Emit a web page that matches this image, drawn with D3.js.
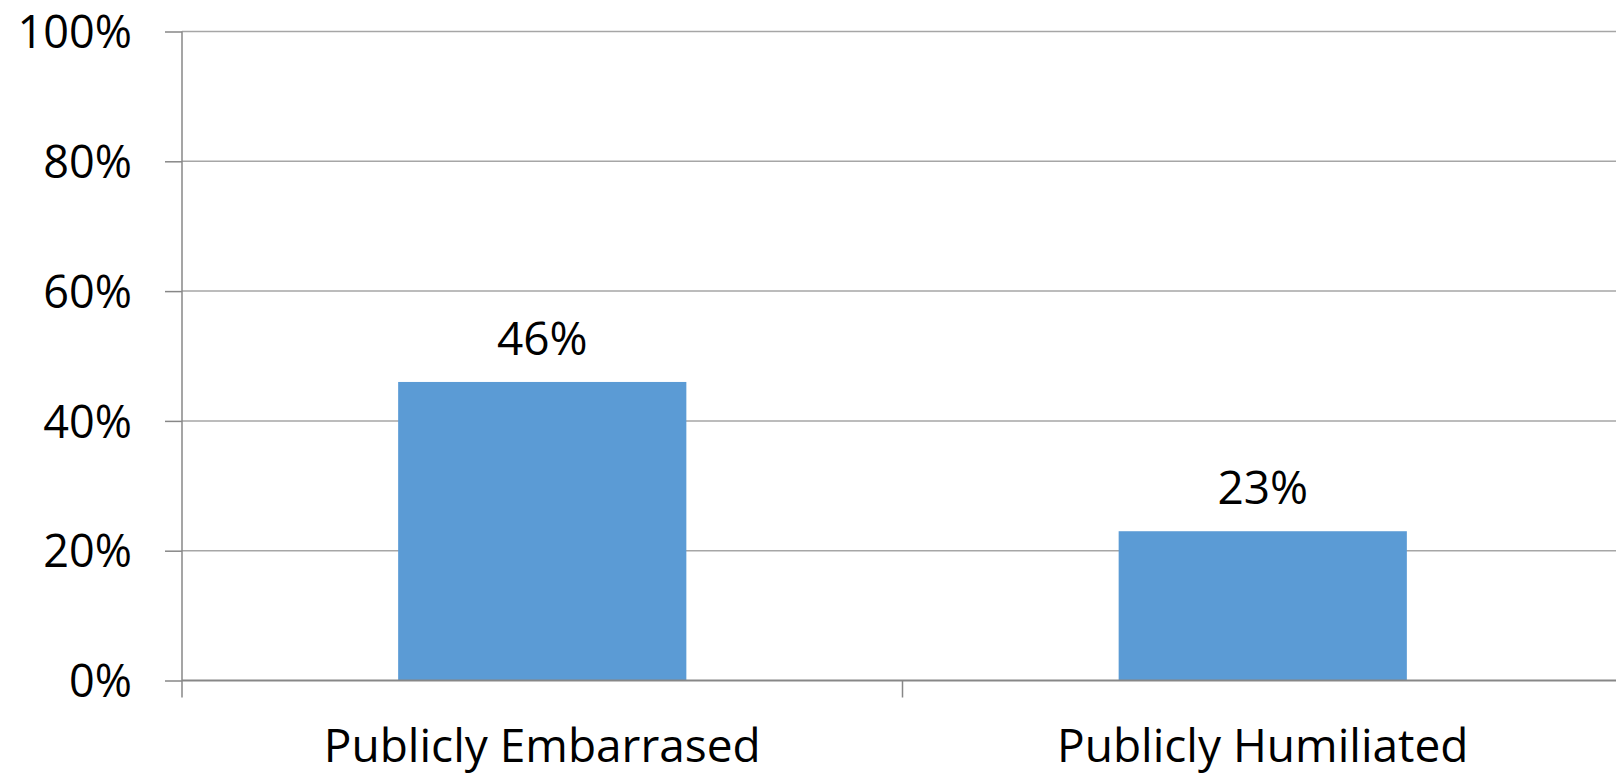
<!DOCTYPE html>
<html lang="en">
<head>
    <meta charset="UTF-8">
    <title>Publicly Embarrassed vs Humiliated</title>
    <script src="https://d3js.org/d3.v7.min.js"></script>
    <style>
        body { margin: 0; background: #fff; }
        svg { display: block; }
        text { font-family: "Open Sans", sans-serif; fill: #000; }
    </style>
</head>
<body>
    <script>
        const categories = ["Publicly Embarrased", "Publicly Humiliated"];
        const values = [0.46, 0.23];
        const yTicks = [0, 0.2, 0.4, 0.6, 0.8, 1.0];

        const width = 1616, height = 775;
        const plotLeft = 182, plotRight = 1623, plotTop = 31.5, plotBottom = 680.5;

        const svg = d3.select("body").append("svg")
            .attr("width", width)
            .attr("height", height);

        const x = d3.scaleBand()
            .domain(categories)
            .range([plotLeft, plotRight])
            .paddingInner(0.6)
            .paddingOuter(0.3);

        const y = d3.scaleLinear()
            .domain([0, 1])
            .range([plotBottom, plotTop]);

        // gridlines
        svg.append("g")
            .selectAll("line")
            .data(yTicks.slice(1))
            .join("line")
            .attr("x1", plotLeft)
            .attr("x2", width)
            .attr("y1", d => y(d))
            .attr("y2", d => y(d))
            .attr("stroke", "#a6a6a6")
            .attr("stroke-width", 1.5);

        // bars
        svg.append("g")
            .selectAll("rect")
            .data(values)
            .join("rect")
            .attr("x", (d, i) => x(categories[i]))
            .attr("width", x.bandwidth())
            .attr("y", d => y(d))
            .attr("height", d => y(0) - y(d))
            .attr("fill", "#5b9bd5");

        // value labels
        svg.append("g")
            .selectAll("text")
            .data(values)
            .join("text")
            .attr("x", (d, i) => x(categories[i]) + x.bandwidth() / 2)
            .attr("y", d => y(d) - 27)
            .attr("text-anchor", "middle")
            .style("font-size", "46px")
            .text(d => d3.format(".0%")(d));

        // y axis
        const yAxis = svg.append("g")
            .attr("transform", `translate(${plotLeft},0)`)
            .call(d3.axisLeft(y).tickValues(yTicks).tickFormat(d3.format(".0%")).tickSize(17).tickPadding(33));
        yAxis.select(".domain").remove();
        yAxis.selectAll(".tick line").attr("stroke", "#878787").attr("stroke-width", 1.5);
        yAxis.selectAll(".tick text")
            .style("font-size", "45px")
            .style("font-family", "Open Sans, sans-serif")
            .attr("dy", "0.36em");
        yAxis.append("line")
            .attr("x1", 0).attr("x2", 0)
            .attr("y1", plotTop).attr("y2", plotBottom + 17)
            .attr("stroke", "#878787").attr("stroke-width", 1.5);

        // x axis
        const xAxis = svg.append("g")
            .attr("transform", `translate(0,${plotBottom})`)
            .call(d3.axisBottom(x).tickSize(0).tickPadding(0));
        xAxis.select(".domain").remove();
        xAxis.append("line")
            .attr("x1", plotLeft).attr("x2", width)
            .attr("y1", 0).attr("y2", 0)
            .attr("stroke", "#878787").attr("stroke-width", 2);
        xAxis.selectAll(".sep")
            .data([plotLeft + x.step(), plotRight])
            .join("line")
            .attr("class", "sep")
            .attr("x1", d => d).attr("x2", d => d)
            .attr("y1", 0).attr("y2", 17)
            .attr("stroke", "#878787").attr("stroke-width", 1.5);
        xAxis.selectAll(".tick text")
            .attr("y", 81)
            .attr("dy", 0)
            .style("font-size", "46px")
            .style("font-family", "Open Sans, sans-serif");
    </script>
</body>
</html>
